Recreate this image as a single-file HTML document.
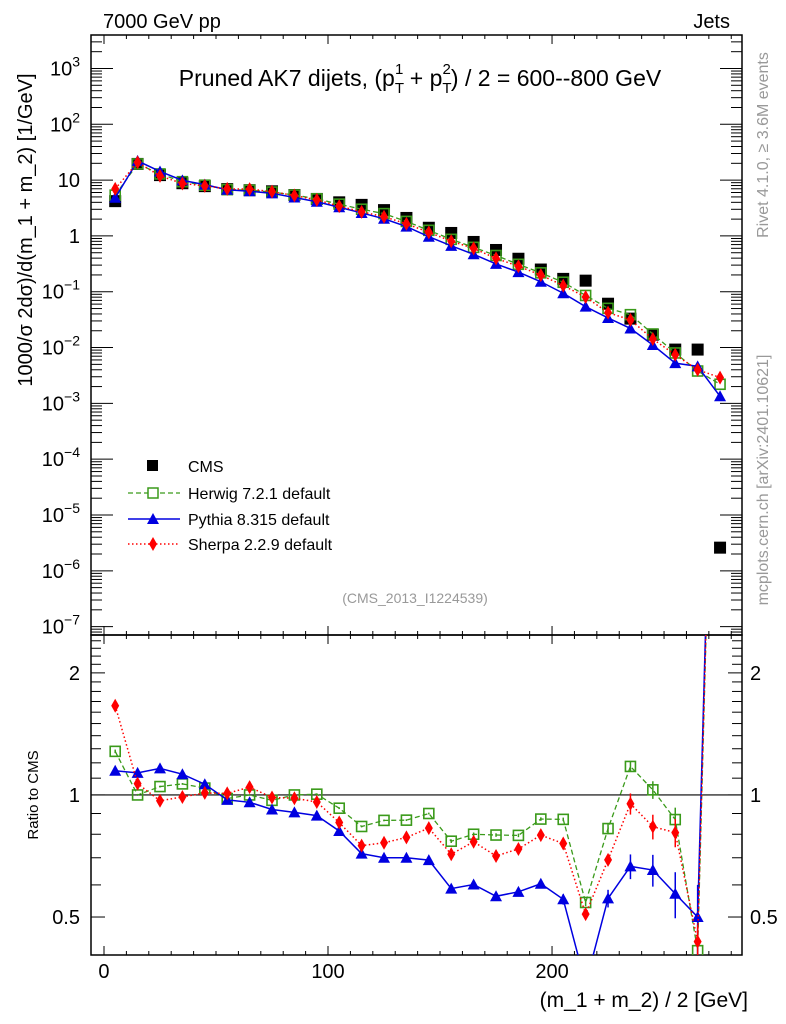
<!DOCTYPE html>
<html><head><meta charset="utf-8"><style>
html,body{margin:0;padding:0;background:#fff}
svg{display:block;font-family:"Liberation Sans",sans-serif}
</style></head><body>
<svg id="chart" width="786" height="1024" viewBox="0 0 786 1024">
<defs>
<clipPath id="clipMain"><rect x="91" y="35" width="651" height="600"/></clipPath>
<clipPath id="clipRatio"><rect x="91" y="635" width="651" height="320"/></clipPath>
</defs>
<g id="frames"></g>
<text x="103" y="28" font-size="20">7000 GeV pp</text>
<text x="730" y="28" font-size="20" text-anchor="end">Jets</text>
<text x="420" y="86" font-size="23" text-anchor="middle">Pruned AK7 dijets, (p<tspan font-size="15" dy="7">T</tspan><tspan font-size="15" dx="-9" dy="-19">1</tspan><tspan dy="12"> + p</tspan><tspan font-size="15" dy="7">T</tspan><tspan font-size="15" dx="-9" dy="-19">2</tspan><tspan dy="12">) / 2 = 600--800 GeV</tspan></text>
<text x="415" y="603" font-size="14" fill="#999" text-anchor="middle">(CMS_2013_I1224539)</text>
<text transform="translate(768,145) rotate(-90)" font-size="16" fill="#999" text-anchor="middle">Rivet 4.1.0, ≥ 3.6M events</text>
<text transform="translate(768,480) rotate(-90)" font-size="16" fill="#999" text-anchor="middle">mcplots.cern.ch [arXiv:2401.10621]</text>
<text transform="translate(32,230) rotate(-90)" font-size="20" text-anchor="middle">1000/σ   2dσ)/d(m_1 + m_2) [1/GeV]</text>
<text transform="translate(38,795) rotate(-90)" font-size="15" text-anchor="middle">Ratio to CMS</text>
<text x="748" y="1007" font-size="21" text-anchor="end">(m_1 + m_2) / 2 [GeV]</text>
<g id="legend">
<g><rect x="147" y="460" width="11" height="11" fill="#000"/><text x="188" y="472" font-size="16">CMS</text></g>
<g><line x1="128" y1="493" x2="180" y2="493" stroke="#3a9a1a" stroke-width="1.3" stroke-dasharray="5,3"/><rect x="148" y="488" width="10" height="10" fill="#fff" stroke="#3a9a1a" stroke-width="1.5"/><text x="188" y="499" font-size="16">Herwig 7.2.1 default</text></g>
<g><line x1="128" y1="519" x2="180" y2="519" stroke="#0000e0" stroke-width="1.5"/><path d="M153,513 L159,524 L147,524 Z" fill="#0000e0"/><text x="188" y="525" font-size="16">Pythia 8.315 default</text></g>
<g><line x1="128" y1="544" x2="180" y2="544" stroke="#f00" stroke-width="1.5" stroke-dasharray="1.5,2.5"/><path d="M153,537 L157,544 L153,551 L149,544 Z" fill="#f00"/><text x="188" y="550" font-size="16">Sherpa 2.2.9 default</text></g>
</g>
<g id="mainMarks" clip-path="url(#clipMain)"></g>
<g id="ratioMarks" clip-path="url(#clipRatio)"></g>
</svg>
<script>
const binCenters = [5,15,25,35,45,55,65,75,85,95,105,115,125,135,145,155,165,175,185,195,205,215,225,235,245,255,265,275];
const cmsValues = [4.2,19.5,12.3,8.8,7.8,6.9,6.6,6.3,5.4,4.6,4.0,3.6,2.9,2.1,1.4,1.13,0.78,0.56,0.39,0.25,0.17,0.158,0.061,0.033,0.017,0.0092,0.0092,2.6e-6];
const herwigValues = [5.38,19.5,12.9,9.37,8.11,6.76,6.6,6.11,5.4,4.62,3.71,3.01,2.51,1.82,1.26,0.869,0.624,0.446,0.31,0.218,0.148,0.0858,0.0504,0.0388,0.0175,0.008,0.0038,0.0022];
const pythiaValues = [4.82,22.1,14.3,9.9,8.29,6.71,6.33,5.8,4.89,4.09,3.26,2.58,2.03,1.47,0.967,0.664,0.469,0.315,0.225,0.151,0.094,0.054,0.0339,0.022,0.0111,0.00525,0.0046,0.00134];
const sherpaValues = [6.97,20.8,11.9,8.7,7.89,6.96,6.9,6.21,5.3,4.42,3.42,2.7,2.21,1.65,1.16,0.807,0.598,0.396,0.287,0.199,0.129,0.0803,0.0422,0.0314,0.0142,0.00743,0.004,0.0029];
const herwigRelErr = [0.01,0.005,0.005,0.005,0.005,0.005,0.005,0.005,0.005,0.005,0.005,0.005,0.005,0.005,0.005,0.01,0.01,0.01,0.01,0.01,0.01,0.02,0.03,0.03,0.05,0.07,0.1,0.1];
const pythiaRelErr = [0.01,0.005,0.005,0.005,0.005,0.005,0.005,0.005,0.005,0.005,0.005,0.005,0.005,0.005,0.005,0.01,0.01,0.01,0.01,0.02,0.03,0.05,0.05,0.07,0.09,0.13,0.2,0.2];
const sherpaRelErr = [0.01,0.005,0.005,0.005,0.005,0.005,0.005,0.005,0.005,0.005,0.005,0.005,0.005,0.005,0.005,0.01,0.01,0.01,0.01,0.01,0.01,0.03,0.03,0.06,0.07,0.08,0.1,0.1];
const xTickLabels = ["0","100","200"];
const mainYTickExps = [-7,-6,-5,-4,-3,-2,-1,0,1,2,3];
const ratioTickLabels = ["0.5","1","2"];

const NS = "http://www.w3.org/2000/svg";
const L = 91, R = 742, MT = 35, MB = 635, RT = 635, RB = 955;
const xMin = -5.8, xMax = 284.8;
const X = v => L + (v - xMin) / (xMax - xMin) * (R - L);
const yMainLogMin = -7.15, yMainLogMax = 3.6;
const YM = v => MB - (Math.log10(v) - yMainLogMin) / (yMainLogMax - yMainLogMin) * (MB - MT);
const rMin = Math.log2(0.403), rMax = Math.log2(2.48);
const YR = v => RB - (Math.log2(v) - rMin) / (rMax - rMin) * (RB - RT);

function mk(tag, attrs, parent) {
  const e = document.createElementNS(NS, tag);
  for (const k in attrs) e.setAttribute(k, attrs[k]);
  parent.appendChild(e);
  return e;
}
const frames = document.getElementById('frames');
const mainG = document.getElementById('mainMarks');
const ratioG = document.getElementById('ratioMarks');

const f1 = mk('rect', {x:L, y:MT, width:R-L, height:MB-MT, fill:'none', stroke:'#000', 'stroke-width':1.5}, frames);


const f2 = mk('rect', {x:L, y:RT, width:R-L, height:RB-RT, fill:'none', stroke:'#000', 'stroke-width':1.5}, frames);



for (let v = 0; v <= 280; v += 10) {
  const major = v % 100 === 0;
  const len = major ? 9 : 4;
  for (const [top, bot] of [[MT, MB], [RT, RB]]) {
    mk('line', {x1:X(v), x2:X(v), y1:bot, y2:bot-len, stroke:'#000', 'stroke-width':1}, frames);
    mk('line', {x1:X(v), x2:X(v), y1:top, y2:top+len, stroke:'#000', 'stroke-width':1}, frames);
  }
}
xTickLabels.forEach(s => {
  const t = mk('text', {x:X(+s), y:978, 'font-size':20, 'text-anchor':'middle'}, frames);
  t.textContent = s;
  
  
});
for (let e = -8; e <= 3; e++) {
  for (let m = 1; m <= 9; m++) {
    const v = m * Math.pow(10, e);
    const y = YM(v);
    if (y < MT || y > MB) continue;
    const len = m === 1 ? 22 : 11;
    mk('line', {x1:L, x2:L+len, y1:y, y2:y, stroke:'#000', 'stroke-width':1}, frames);
    mk('line', {x1:R, x2:R-len, y1:y, y2:y, stroke:'#000', 'stroke-width':1}, frames);
  }
}
mainYTickExps.forEach(e => {
  const y = YM(Math.pow(10, e));
  const t = mk('text', {x:80, y:y+7, 'font-size':20, 'text-anchor':'end'}, frames);
  
  
  if (e === 0) t.textContent = '1';
  else if (e === 1) t.textContent = '10';
  else {
    t.textContent = '10';
    const s = mk('tspan', {'font-size':14, dy:-9}, t);
    s.textContent = String(e).replace('-', '−');
  }
});
[0.5,0.6,0.7,0.8,0.9,1,1.1,1.2,1.3,1.4,1.5,1.6,1.7,1.8,1.9,2,2.1,2.2,2.3,2.4].forEach(v => {
  const y = YR(v);
  const major = (v === 0.5 || v === 1 || v === 2);
  const len = major ? 14 : 10;
  mk('line', {x1:L, x2:L+len, y1:y, y2:y, stroke:'#000', 'stroke-width':1}, frames);
  mk('line', {x1:R, x2:R-len, y1:y, y2:y, stroke:'#000', 'stroke-width':1}, frames);
});
ratioTickLabels.forEach(s => {
  const y = YR(+s);
  const t1 = mk('text', {x:80, y:y+7, 'font-size':20, 'text-anchor':'end'}, frames);
  t1.textContent = s;
  
  
  const t2 = mk('text', {x:750, y:y+7, 'font-size':20}, frames);
  t2.textContent = s;
  
  
});
const oneLine = mk('line', {x1:L, x2:R, y1:YR(1), y2:YR(1), stroke:'#000', 'stroke-width':1.2}, frames);



function marker(kind, color, cx, cy, g) {
  let e;
  if (kind === 'square') e = mk('rect', {x:cx-5, y:cy-5, width:10, height:10, fill:'#fff', 'fill-opacity':0, stroke:color, 'stroke-width':1.6}, g);
  else if (kind === 'tri') e = mk('path', {d:`M${cx},${cy-6} L${cx+6},${cy+5} L${cx-6},${cy+5} Z`, fill:color}, g);
  else if (kind === 'diamond') e = mk('path', {d:`M${cx},${cy-7} L${cx+4},${cy} L${cx},${cy+7} L${cx-4},${cy} Z`, fill:color}, g);
  else e = mk('rect', {x:cx-6, y:cy-6, width:12, height:12, fill:color}, g);
  return e;
}

const series = [
  {name:'herwig', vals:herwigValues, err:herwigRelErr, color:'#3a9a1a', kind:'square', dash:'5,3', w:1.3},
  {name:'pythia', vals:pythiaValues, err:pythiaRelErr, color:'#0000e0', kind:'tri', dash:'', w:1.5},
  {name:'sherpa', vals:sherpaValues, err:sherpaRelErr, color:'#f00', kind:'diamond', dash:'1.5,2.5', w:1.5}
];

binCenters.forEach((x, i) => {
  const m = marker('box', '#000', X(x), YM(cmsValues[i]), mainG);
  
  
});

series.forEach(s => {
  const mainPts = binCenters.map((x, i) => [X(x), YM(s.vals[i])]);
  const ratios = binCenters.map((x, i) => Math.min(s.vals[i] / cmsValues[i], 50));
  const ratioPts = binCenters.map((x, i) => [X(x), YR(ratios[i])]);
  const p1 = mk('polyline', {points:mainPts.map(p => p.join(',')).join(' '), fill:'none', stroke:s.color, 'stroke-width':s.w, 'stroke-dasharray':s.dash}, mainG);
  
  
  const p2 = mk('polyline', {points:ratioPts.map(p => p.join(',')).join(' '), fill:'none', stroke:s.color, 'stroke-width':s.w, 'stroke-dasharray':s.dash}, ratioG);
  
  
  binCenters.forEach((x, i) => {
    const m = marker(s.kind, s.color, mainPts[i][0], mainPts[i][1], mainG);
    
    
    const r = ratios[i], e = s.err[i];
    const eb = mk('line', {x1:ratioPts[i][0], x2:ratioPts[i][0], y1:YR(r*(1+e)), y2:YR(Math.max(r*(1-e), 0.01)), stroke:s.color, 'stroke-width':1.5}, ratioG);
    
    
    const rm = marker(s.kind, s.color, ratioPts[i][0], ratioPts[i][1], ratioG);
    
    
  });
});
</script>
</body></html>
